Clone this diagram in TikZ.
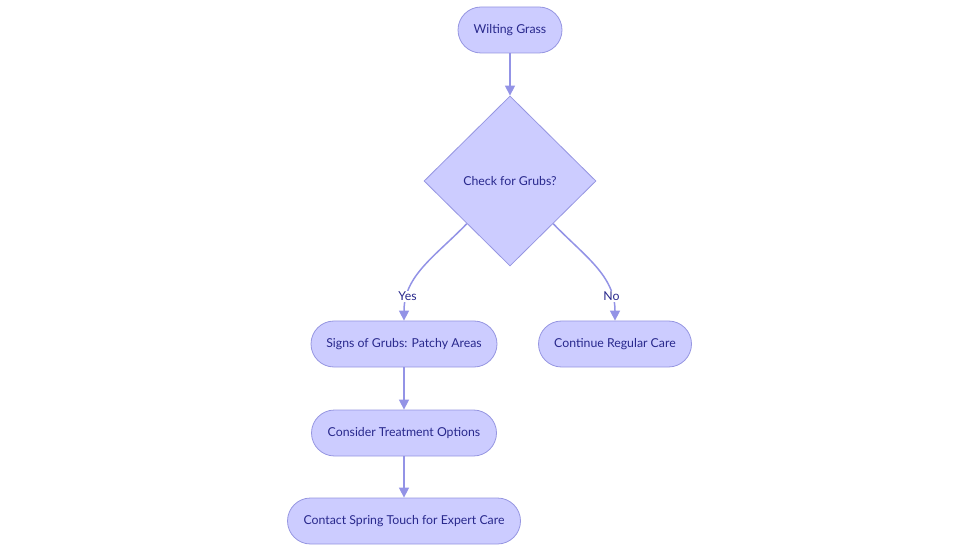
\documentclass[tikz,border=0pt]{standalone}
\usepackage{fontspec}
\setmainfont{Lato}
\usetikzlibrary{shapes.geometric,arrows.meta}
\definecolor{boxfill}{RGB}{204,204,255}
\definecolor{boxline}{RGB}{150,150,225}
\definecolor{edgecol}{RGB}{147,147,230}
\definecolor{txt}{RGB}{40,40,140}
\tikzset{
  pill/.style={draw=boxline, fill=boxfill, line width=0.8pt, rounded corners=23pt,
    minimum height=46pt, inner sep=0pt, text=txt, font=\fontsize{12.3}{14}\selectfont},
  decision/.style={draw=boxline, fill=boxfill, line width=0.8pt, diamond, aspect=1,
    minimum width=172pt, minimum height=170pt, inner sep=0pt, text=txt, font=\fontsize{12.3}{14}\selectfont},
  conn/.style={draw=edgecol, line width=1.5pt, -{Triangle[width=10pt,length=10pt]}},
  elabel/.style={fill=white, inner sep=1pt, text=txt, font=\fontsize{12.3}{14}\selectfont}
}
\begin{document}
\begin{tikzpicture}[x=1pt,y=-1pt]
\useasboundingbox (0,0) rectangle (980,553);
\node[pill, minimum width=104pt] (w) at (510,30) {Wilting Grass};
\node[decision] (d) at (510,181) {Check for Grubs?};
\node[pill, minimum width=186pt] (s) at (404,344) {Signs of Grubs: Patchy Areas};
\node[pill, minimum width=153pt] (c) at (615,344) {Continue Regular Care};
\node[pill, minimum width=185pt] (t) at (404,433) {Consider Treatment Options};
\node[pill, minimum width=233pt] (e) at (404,521) {Contact Spring Touch for Expert Care};
\draw[conn] (w) -- (d);
\draw[conn] (d.south west) to[out=-134,in=90] node[elabel, pos=0.8] {Yes} (s.north);
\draw[conn] (d.south east) to[out=-46,in=90] node[elabel, pos=0.8] {No} (c.north);
\draw[conn] (s) -- (t);
\draw[conn] (t) -- (e);
\end{tikzpicture}
\end{document}
